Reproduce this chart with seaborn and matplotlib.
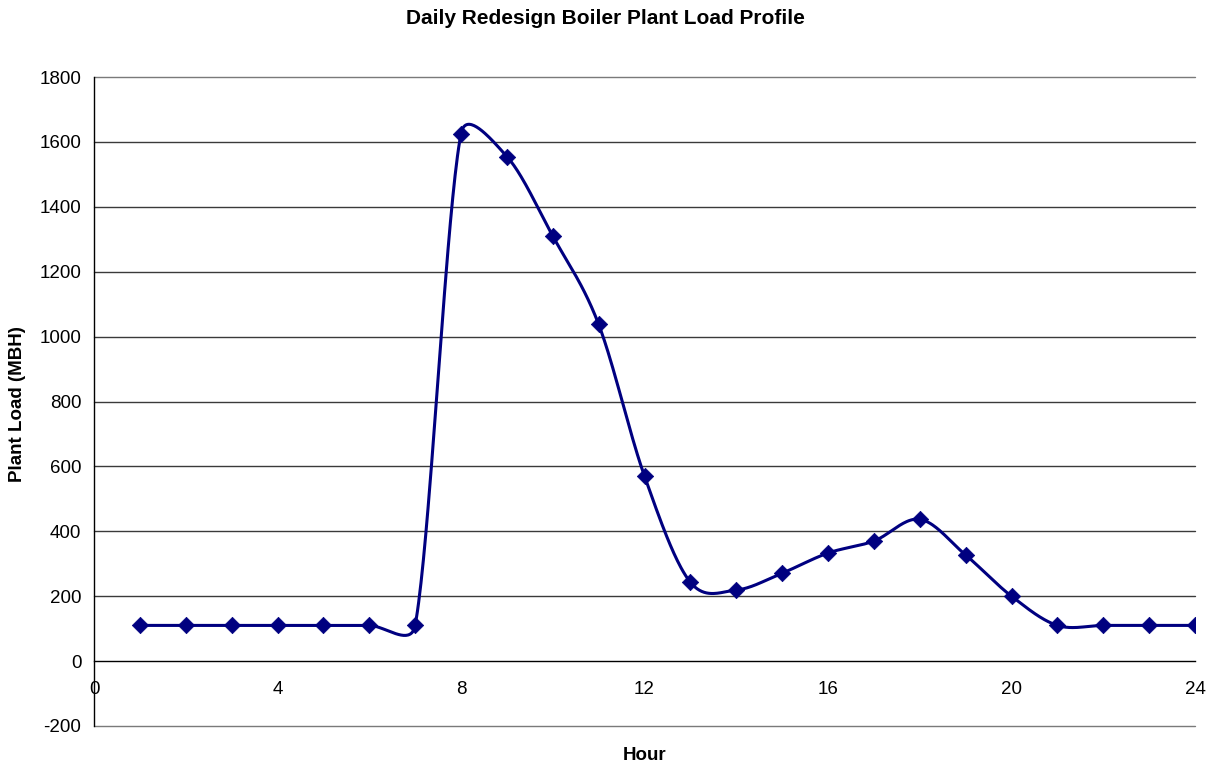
import numpy as np
import pandas as pd
import matplotlib
matplotlib.use("Agg")
import matplotlib.pyplot as plt
import seaborn as sns

# Hourly boiler plant load (MBH)
hours = list(range(1, 25))
load = [110, 110, 110, 110, 110, 110, 110, 1625, 1555, 1310, 1038, 570,
        243, 219, 271, 333, 370, 437, 327, 200, 110, 110, 110, 110]

x_ticks = [0, 4, 8, 12, 16, 20, 24]
y_ticks = list(range(-200, 1801, 200))

title = "Daily Redesign Boiler Plant Load Profile"
x_label = "Hour"
y_label = "Plant Load (MBH)"

sns.set_theme(style="white")
plt.rcParams["font.family"] = ["Liberation Sans", "DejaVu Sans"]
plt.rcParams["axes.unicode_minus"] = False
plt.rcParams["text.color"] = "black"

fig = plt.figure(figsize=(12.11, 7.65), dpi=100)
ax = fig.add_axes([94 / 1211, 39 / 765, 1101 / 1211, 649 / 765])
ax.set_xlim(0, 24)
ax.set_ylim(-200, 1800)


def smooth_curve(xs, ys, ax, n=40):
    """Spreadsheet-style smoothed line: cubic Bezier segments whose control
    handles follow the neighbouring points (tension 1/6) and are capped at
    half the segment length, computed in screen space."""
    pts = ax.transData.transform(np.column_stack([xs, ys]))
    m = len(pts)
    out = []
    for i in range(m - 1):
        p1, p2 = pts[i], pts[i + 1]
        p0 = pts[i - 1] if i > 0 else p1
        p3 = pts[i + 2] if i + 2 < m else p2
        d12 = np.linalg.norm(p2 - p1)
        t1 = p2 - p0
        t2 = p3 - p1
        l1 = np.linalg.norm(t1)
        l2 = np.linalg.norm(t2)
        h1 = min(l1 / 6, d12 / 2)
        h2 = min(l2 / 6, d12 / 2)
        c1 = p1 + (t1 / l1 * h1 if l1 > 0 else 0)
        c2 = p2 - (t2 / l2 * h2 if l2 > 0 else 0)
        t = np.linspace(0, 1, n)[:, None]
        seg = ((1 - t) ** 3) * p1 + 3 * ((1 - t) ** 2) * t * c1 \
            + 3 * (1 - t) * t ** 2 * c2 + t ** 3 * p2
        out.append(seg if i == 0 else seg[1:])
    curve = np.vstack(out)
    return ax.transData.inverted().transform(curve)


curve = smooth_curve(np.array(hours, float), np.array(load, float), ax)
curve_df = pd.DataFrame({"x": curve[:, 0], "y": curve[:, 1]})
pts_df = pd.DataFrame({"Hour": hours, "Load": load})

# Gridlines
for yv in y_ticks:
    if yv == 0:
        continue
    ax.axhline(yv, color="#3a3a3a" if -200 < yv < 1800 else "#7a7a7a",
               lw=1.0, zorder=0, clip_on=False)

sns.lineplot(data=curve_df, x="x", y="y", sort=False, estimator=None,
             color="#000080", lw=2.2, ax=ax, zorder=3)
sns.scatterplot(data=pts_df, x="Hour", y="Load", marker="D", s=70,
                color="#000080", edgecolor="#000080", linewidth=0.5,
                ax=ax, zorder=4)

# Axes: value axis on the left, category axis crossing at zero
for side in ("top", "right"):
    ax.spines[side].set_visible(False)
ax.spines["left"].set_color("black")
ax.spines["left"].set_linewidth(1.0)
ax.spines["bottom"].set_position(("data", 0))
ax.spines["bottom"].set_color("black")
ax.spines["bottom"].set_linewidth(1.0)

ax.set_xticks(x_ticks)
ax.set_yticks(y_ticks)
ax.tick_params(axis="both", direction="out", length=5, width=1,
               color="#555555", labelsize=13.5, labelcolor="black")
ax.tick_params(axis="x", pad=9)
ax.tick_params(axis="y", pad=4)
ax.set_xlabel("")
ax.set_ylabel("")

fig.text(0.5, 1 - 18 / 765, title, ha="center", va="center",
         fontsize=15, fontweight="bold", color="black")
fig.text(0.5 * (94 + 1195) / 1211, 1 - 755 / 765, x_label, ha="center",
         va="center", fontsize=13.5, fontweight="bold", color="black")
fig.text(18 / 1211, 1 - 404 / 765, y_label, ha="center", va="center",
         rotation=90, fontsize=13.5, fontweight="bold", color="black")

fig.savefig("out.png", dpi=100, facecolor="white")
